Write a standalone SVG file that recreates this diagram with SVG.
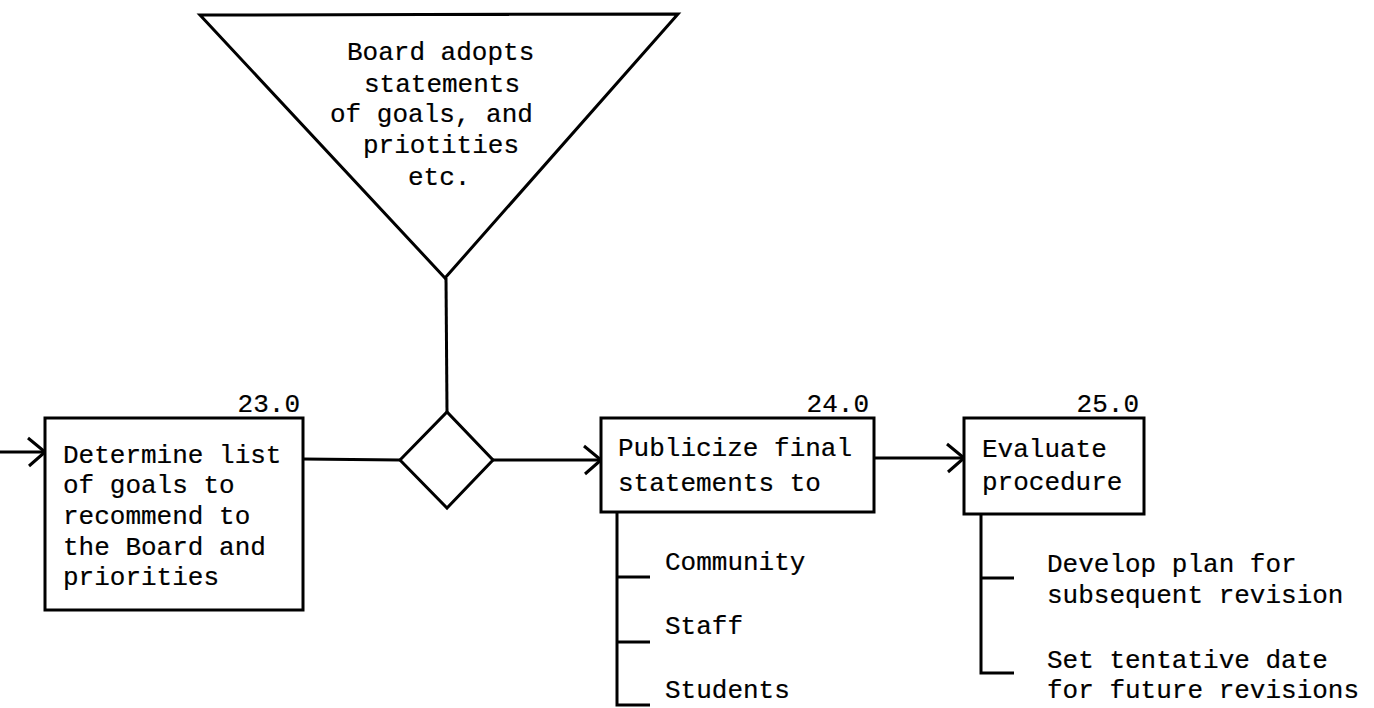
<svg xmlns="http://www.w3.org/2000/svg" width="1374" height="708" viewBox="0 0 1374 708">
  <style>
    .shape { fill: #fff; stroke: #000; stroke-width: 3; stroke-linejoin: miter; }
    .wire { fill: none; stroke: #000; stroke-width: 3; }
    .txt { font-family: "Liberation Mono", "Courier New", monospace; font-size: 26px; fill: #000; stroke: #000; stroke-width: 0.2; }
    .num { text-anchor: end; }
  </style>
  <defs>
    <marker id="chev" viewBox="-20 -16 24 32" refX="0" refY="0" markerWidth="24" markerHeight="32" markerUnits="userSpaceOnUse" orient="auto">
      <path d="M-17,-14 L0,0 L-16,14" fill="none" stroke="#000" stroke-width="3" stroke-linejoin="round"/>
    </marker>
  </defs>
  <rect width="1374" height="708" fill="#fff"/>

  <!-- connectors -->
  <g id="connectors">
    <line class="wire" x1="0" y1="452" x2="45" y2="452" marker-end="url(#chev)"/>
    <line class="wire" x1="303" y1="459" x2="400" y2="460"/>
    <line class="wire" x1="446" y1="278" x2="447" y2="412"/>
    <line class="wire" x1="493" y1="460" x2="601" y2="460" marker-end="url(#chev)"/>
    <line class="wire" x1="874" y1="458" x2="964" y2="458" marker-end="url(#chev)"/>
    <!-- bracket under 24.0 -->
    <polyline class="wire" points="617,512 617,705 650,705"/>
    <line class="wire" x1="617" y1="577" x2="650" y2="577"/>
    <line class="wire" x1="617" y1="642" x2="650" y2="642"/>
    <!-- bracket under 25.0 -->
    <polyline class="wire" points="981,514 981,673 1014,673"/>
    <line class="wire" x1="981" y1="578" x2="1014" y2="578"/>
  </g>

  <!-- board decision (inverted triangle) -->
  <g id="board-adopts">
    <polygon class="shape" points="200,15 678,14 445,278"/>
    <text class="txt" x="347" y="60">Board adopts</text>
    <text class="txt" x="364" y="92">statements</text>
    <text class="txt" x="330" y="122">of goals, and</text>
    <text class="txt" x="363" y="153">priotities</text>
    <text class="txt" x="408" y="185">etc.</text>
  </g>

  <!-- junction -->
  <g id="junction">
    <polygon class="shape" points="400,460 447,412 493,460 447,508"/>
  </g>

  <!-- step 23.0 -->
  <g id="step-23">
    <rect class="shape" x="45" y="418" width="258" height="192"/>
    <text class="txt num" x="300" y="412">23.0</text>
    <text class="txt" x="63" y="463">Determine list</text>
    <text class="txt" x="63" y="493">of goals to</text>
    <text class="txt" x="63" y="524">recommend to</text>
    <text class="txt" x="63" y="555">the Board and</text>
    <text class="txt" x="63" y="585">priorities</text>
  </g>

  <!-- step 24.0 -->
  <g id="step-24">
    <rect class="shape" x="601" y="418" width="273" height="94"/>
    <text class="txt num" x="869" y="412">24.0</text>
    <text class="txt" x="618" y="456">Publicize final</text>
    <text class="txt" x="618" y="491">statements to</text>
    <text class="txt" x="665" y="570">Community</text>
    <text class="txt" x="665" y="634">Staff</text>
    <text class="txt" x="665" y="698">Students</text>
  </g>

  <!-- step 25.0 -->
  <g id="step-25">
    <rect class="shape" x="964" y="418" width="180" height="96"/>
    <text class="txt num" x="1139" y="412">25.0</text>
    <text class="txt" x="982" y="457">Evaluate</text>
    <text class="txt" x="982" y="490">procedure</text>
    <text class="txt" x="1047" y="572">Develop plan for</text>
    <text class="txt" x="1047" y="603">subsequent revision</text>
    <text class="txt" x="1047" y="668">Set tentative date</text>
    <text class="txt" x="1047" y="698">for future revisions</text>
  </g>
</svg>
